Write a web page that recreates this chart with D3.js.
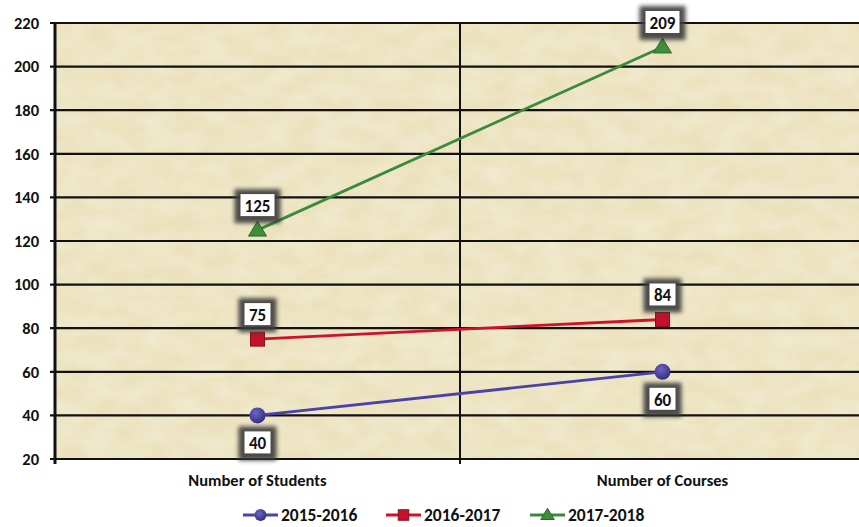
<!DOCTYPE html>
<html>
<head>
<meta charset="utf-8">
<script src="https://cdn.jsdelivr.net/npm/d3@7"></script>
<style>
  body { margin: 0; background: #fff; }
  svg { display: block; font-family: Calibri, Carlito, "Liberation Sans", sans-serif; }
</style>
</head>
<body>
<svg width="859" height="527"></svg>
<script>
// chart data
const categories = ["Number of Students", "Number of Courses"];
const seriesNames = ["2015-2016", "2016-2017", "2017-2018"];
const values2015 = [40, 60];
const values2016 = [75, 84];
const values2017 = [125, 209];
const yTicks = [20, 40, 60, 80, 100, 120, 140, 160, 180, 200, 220];

const series = [
    { name: seriesNames[0], values: values2015, color: "#4a42a6", fill: "#4b3f9e", shape: "circle", below: true },
    { name: seriesNames[1], values: values2016, color: "#d0112b", fill: "#c3122c", shape: "square", below: false },
    { name: seriesNames[2], values: values2017, color: "#3a8a3c", fill: "#3f8e3a", shape: "triangle", below: false }
];

let svg = d3.select("svg");
let plotLeft = 55, plotRight = 865, plotTop = 23, plotBottom = 459;

let x = d3.scaleBand().domain(categories).range([plotLeft, plotRight]);
let y = d3.scaleLinear().domain([20, 220]).range([plotBottom, plotTop]);

let defs = svg.append("defs");

// parchment texture
let tex = defs.append("filter").attr("id", "paper")
    .attr("x", 0).attr("y", 0).attr("width", 1).attr("height", 1);
tex.append("feTurbulence").attr("type", "fractalNoise")
    .attr("baseFrequency", "0.035 0.06").attr("numOctaves", 4).attr("seed", 7).attr("result", "noise");
tex.append("feColorMatrix").attr("in", "noise").attr("type", "matrix")
    .attr("values", "0 0 0 0 0.97  0 0 0 0 0.95  0 0 0 0 0.85  0.6 0 0 0 -0.17")
    .attr("result", "spots");
tex.append("feComposite").attr("in", "spots").attr("in2", "SourceGraphic").attr("operator", "over");

let shadow = defs.append("filter").attr("id", "boxShadow")
    .attr("x", "-50%").attr("y", "-50%").attr("width", "200%").attr("height", "200%");
shadow.append("feGaussianBlur").attr("stdDeviation", 2.2);

let grad = defs.append("radialGradient").attr("id", "ballGrad")
    .attr("cx", "40%").attr("cy", "35%").attr("r", "65%");
grad.append("stop").attr("offset", "0%").attr("stop-color", "#6e64c8");
grad.append("stop").attr("offset", "100%").attr("stop-color", "#36307f");

// plot background
svg.append("rect")
    .attr("x", plotLeft).attr("y", plotTop)
    .attr("width", plotRight - plotLeft).attr("height", plotBottom - plotTop)
    .attr("fill", "#ebe1bd")
    .attr("filter", "url(#paper)");

// horizontal gridlines
svg.append("g")
    .selectAll("line")
    .data(yTicks)
    .enter().append("line")
    .attr("x1", plotLeft - 5).attr("x2", plotRight)
    .attr("y1", d => y(d)).attr("y2", d => y(d))
    .attr("stroke", "#111").attr("stroke-width", 2.2);

// y tick labels
svg.append("g")
    .selectAll("text")
    .data(yTicks)
    .enter().append("text")
    .attr("x", 39).attr("y", d => y(d))
    .attr("dy", "0.35em")
    .attr("text-anchor", "end")
    .attr("font-size", 16.5).attr("font-weight", "bold")
    .attr("fill", "#111")
    .text(d => d);

// left axis & category divider
svg.append("line")
    .attr("x1", plotLeft).attr("x2", plotLeft)
    .attr("y1", plotTop).attr("y2", plotBottom + 5)
    .attr("stroke", "#111").attr("stroke-width", 3);
svg.append("line")
    .attr("x1", x(categories[1])).attr("x2", x(categories[1]))
    .attr("y1", plotTop).attr("y2", plotBottom + 5)
    .attr("stroke", "#111").attr("stroke-width", 2);

// category labels
svg.append("g")
    .selectAll("text")
    .data(categories)
    .enter().append("text")
    .attr("x", d => x(d) + x.bandwidth() / 2)
    .attr("y", 486)
    .attr("text-anchor", "middle")
    .attr("font-size", 16.5).attr("font-weight", "bold")
    .attr("fill", "#111")
    .text(d => d);

function cx(i) { return x(categories[i]) + x.bandwidth() / 2; }

function drawMarker(g, shape, fill, px, py, s) {
    if (shape === "circle") {
        g.append("circle").attr("cx", px).attr("cy", py).attr("r", 8 * s)
            .attr("fill", "url(#ballGrad)");
    } else if (shape === "square") {
        g.append("rect").attr("x", px - 7 * s).attr("y", py - 7 * s)
            .attr("width", 14 * s).attr("height", 14 * s)
            .attr("fill", fill).attr("stroke", "#8e0c1f").attr("stroke-width", 1);
    } else {
        g.append("path")
            .attr("d", `M${px},${py - 9 * s}L${px + 9 * s},${py + 6 * s}L${px - 9 * s},${py + 6 * s}Z`)
            .attr("fill", fill).attr("stroke", "#2c6a2c").attr("stroke-width", 1);
    }
}

let lineGen = d3.line()
    .x((d, i) => cx(i))
    .y(d => y(d));

series.forEach(function(s) {
    let g = svg.append("g");
    g.append("path")
        .datum(s.values)
        .attr("d", lineGen)
        .attr("fill", "none")
        .attr("stroke", s.color)
        .attr("stroke-width", 2.8);
    s.values.forEach(function(v, i) {
        drawMarker(g, s.shape, s.fill, cx(i), y(v), 1);
    });
});

// data labels
series.forEach(function(s) {
    s.values.forEach(function(v, i) {
        let txt = String(v);
        let w = txt.length > 2 ? 40 : 32, h = 28;
        let px = cx(i);
        let py = s.below ? y(v) + 27 : y(v) - 25;
        let g = svg.append("g");
        g.append("rect")
            .attr("x", px - w / 2 - 3).attr("y", py - h / 2 - 2)
            .attr("width", w + 6).attr("height", h + 6)
            .attr("fill", "#3a3a3a").attr("opacity", 0.9)
            .attr("filter", "url(#boxShadow)");
        g.append("rect")
            .attr("x", px - w / 2 + 3).attr("y", py - h / 2 + 3)
            .attr("width", w - 6).attr("height", h - 6)
            .attr("fill", "#fff");
        g.append("text")
            .attr("x", px).attr("y", py + 1)
            .attr("dy", "0.35em")
            .attr("text-anchor", "middle")
            .attr("font-size", 17).attr("font-weight", "bold")
            .attr("fill", "#111")
            .text(txt);
    });
});

// legend
let legendX = [243, 386, 530];
series.forEach(function(s, i) {
    let g = svg.append("g");
    let lx = legendX[i], ly = 515;
    g.append("line")
        .attr("x1", lx).attr("x2", lx + 35)
        .attr("y1", ly).attr("y2", ly)
        .attr("stroke", s.color).attr("stroke-width", 3);
    drawMarker(g, s.shape, s.fill, lx + 17.5, ly, 0.75);
    g.append("text")
        .attr("x", lx + 38).attr("y", ly)
        .attr("dy", "0.35em")
        .attr("font-size", 17.5).attr("font-weight", "bold")
        .attr("fill", "#111")
        .text(s.name);
});
</script>
</body>
</html>
